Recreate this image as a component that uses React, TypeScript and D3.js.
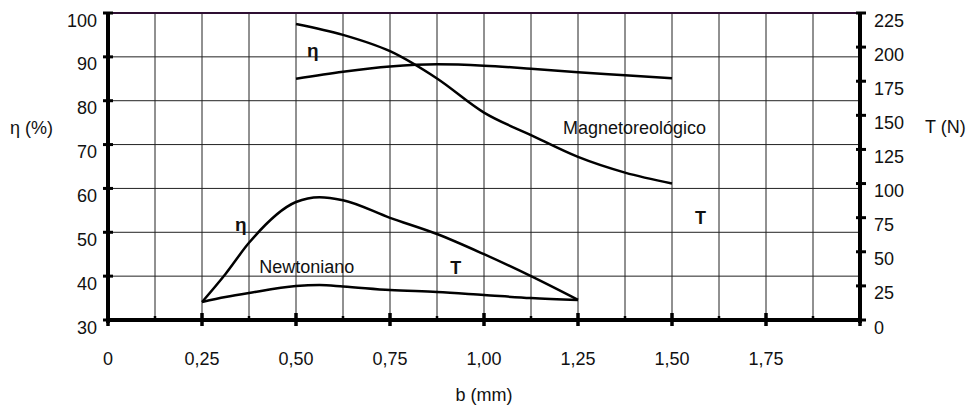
import React from 'react';
import { scaleLinear, line, curveMonotoneX, range } from 'd3';

// b (mm) positions and measured values
const bTicks = [0, 0.25, 0.5, 0.75, 1.0, 1.25, 1.5, 1.75];
const etaTicks = [30, 40, 50, 60, 70, 80, 90, 100];
const torqueTicks = [0, 25, 50, 75, 100, 125, 150, 175, 200, 225];

const bMagneto = [0.5, 0.625, 0.75, 0.875, 1.0, 1.125, 1.25, 1.375, 1.5];
const etaMagneto = [85, 86.6, 87.8, 88.3, 88, 87.3, 86.5, 85.8, 85.1];
const torqueMagneto = [217, 209, 197, 177, 152, 135.5, 119.5, 108, 100];

const bNewton = [0.25, 0.3125, 0.375, 0.5, 0.5625, 0.625, 0.75, 0.875, 1.0, 1.125, 1.25];
const etaNewton = [34.1, 40.5, 47.6, 56.9, 58, 57.3, 53.3, 49.6, 45, 40, 34.6];
const torqueNewton = [13.2, 16.8, 19.8, 24.9, 25.6, 24.6, 22, 20.5, 18.3, 16.1, 14.7];

const fmt = (v: number) => (v === 0 ? '0' : v.toFixed(2).replace('.', ','));

const App = () => {
  const width = 978;
  const height = 410;
  const left = 108, right = 860, top = 13, bottom = 320;
  const fs = 18;

  const x = scaleLinear().domain([0, 2]).range([left, right]);
  const yEta = scaleLinear().domain([30, 100]).range([bottom, top]);
  const yT = scaleLinear().domain([0, 225]).range([bottom, top]);

  const makePath = (bs: number[], vs: number[], y: (v: number) => number) =>
    line<number>()
      .x((_, i) => x(bs[i]))
      .y((v) => y(v))
      .curve(curveMonotoneX)(vs) || '';

  const gridX = range(1, 16).map((i) => i * 0.125);
  const minorX = range(0, 16).map((i) => i * 0.125).filter((_, i) => i % 2 === 1);

  return (
    <svg width={width} height={height} style={{ position: 'absolute', left: 0, top: 0 }}
      fontFamily="Liberation Sans, Arial, sans-serif" fill="#111">
      <rect width={width} height={height} fill="#fff" />
      {/* grid */}
      {gridX.map((b) => (
        <line key={'gx' + b} x1={x(b)} x2={x(b)} y1={top} y2={bottom} stroke="#222" strokeWidth={1} />
      ))}
      {etaTicks.slice(1, -1).map((v) => (
        <line key={'gy' + v} x1={left} x2={right} y1={yEta(v)} y2={yEta(v)} stroke="#222" strokeWidth={1} />
      ))}
      <line x1={left} x2={right} y1={top} y2={top} stroke="#2e0f32" strokeWidth={2} />

      {/* curves */}
      <g fill="none" stroke="#000" strokeWidth={2.5} strokeLinejoin="round">
        <path d={makePath(bMagneto, etaMagneto, yEta)} />
        <path d={makePath(bMagneto, torqueMagneto, yT)} />
        <path d={makePath(bNewton, etaNewton, yEta)} />
        <path d={makePath(bNewton, torqueNewton, yT)} />
      </g>

      {/* axes */}
      <line x1={left} x2={left} y1={top - 1} y2={bottom + 3} stroke="#000" strokeWidth={4} />
      <line x1={right} x2={right} y1={top - 1} y2={bottom + 3} stroke="#000" strokeWidth={4} />
      <line x1={left} x2={right} y1={bottom} y2={bottom} stroke="#000" strokeWidth={4} />

      {etaTicks.map((v) => (
        <g key={'le' + v}>
          <line x1={left - 5} x2={left + 5} y1={yEta(v)} y2={yEta(v)} stroke="#000" strokeWidth={3} />
          <text x={97} y={yEta(v) + 13.5} textAnchor="end" fontSize={fs}>{v}</text>
        </g>
      ))}
      {torqueTicks.map((v) => (
        <g key={'rt' + v}>
          <line x1={right - 4} x2={right + 6} y1={yT(v)} y2={yT(v)} stroke="#000" strokeWidth={3} />
          <text x={874} y={yT(v) + 13.5} fontSize={fs}>{v}</text>
        </g>
      ))}
      {bTicks.concat([2]).map((b) => (
        <line key={'bt' + b} x1={x(b)} x2={x(b)} y1={bottom - 7} y2={bottom + 6} stroke="#000" strokeWidth={3.5} />
      ))}
      {minorX.map((b) => (
        <line key={'mt' + b} x1={x(b)} x2={x(b)} y1={bottom - 4} y2={bottom} stroke="#000" strokeWidth={2.5} />
      ))}
      {bTicks.map((b) => (
        <text key={'bl' + b} x={x(b)} y={365} textAnchor="middle" fontSize={fs}>{fmt(b)}</text>
      ))}

      {/* axis titles */}
      <text x={x(1)} y={401} textAnchor="middle" fontSize={fs}>b (mm)</text>
      <text x={10} y={134} fontSize={fs}>η (%)</text>
      <text x={925} y={133} fontSize={fs}>T (N)</text>

      {/* annotations */}
      <text x={x(0.529)} y={yEta(90)} fontSize={fs + 1} fontWeight="bold">η</text>
      <text x={x(1.21)} y={yEta(72.4)} fontSize={fs}>Magnetoreológico</text>
      <text x={x(1.561)} y={yEta(51.9)} fontSize={fs} fontWeight="bold">T</text>
      <text x={x(0.338)} y={yEta(50.3)} fontSize={fs + 1} fontWeight="bold">η</text>
      <text x={x(0.402)} y={yEta(40.7)} fontSize={fs}>Newtoniano</text>
      <text x={x(0.91)} y={yEta(40.5)} fontSize={fs} fontWeight="bold">T</text>
    </svg>
  );
};

export default App;
